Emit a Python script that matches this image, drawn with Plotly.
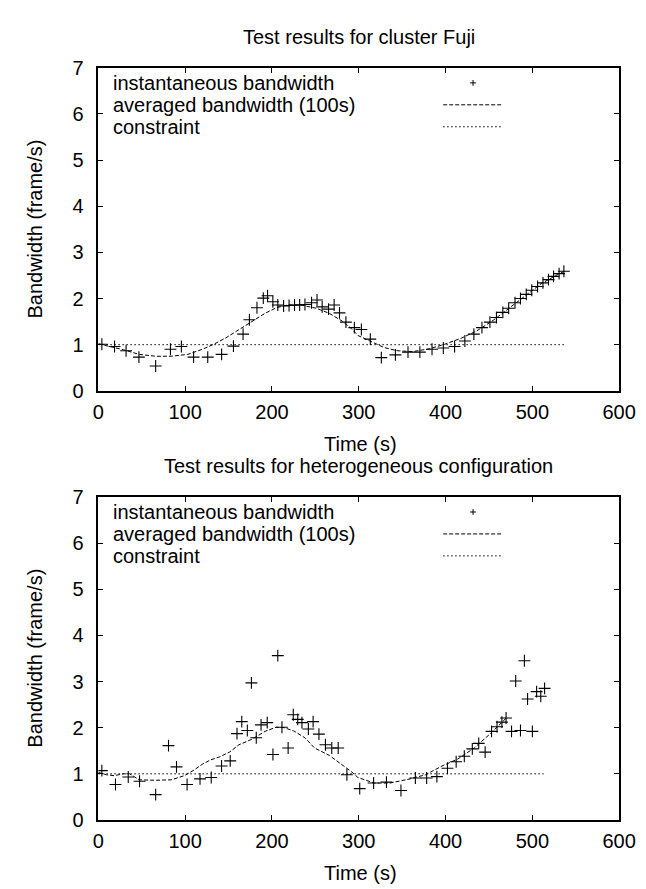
import plotly.graph_objects as go

# ---------------- data ----------------
top_inst_t = [4, 18.6, 31.9, 46.7, 66, 83, 95.6, 109.7, 126, 142, 155.6, 166.7, 174, 182.7, 190,
              194.9, 201, 206.7, 213.4, 219.7, 226, 231.9, 238, 245.6, 251.9, 257.8, 265.2, 271.6,
              277.8, 285.2, 294.9, 303, 313.3, 326, 342.2, 356.7, 370.4, 384.4, 397.4, 410.4, 422.2,
              432.6, 441.9, 451.1, 458.6, 466, 472.7, 480, 486.3, 493, 499.3, 506, 512.2, 518.6,
              524.4, 530.8, 536.3]
top_inst_v = [1.01, 0.96, 0.87, 0.73, 0.54, 0.90, 0.96, 0.73, 0.73, 0.79, 0.97, 1.23, 1.54, 1.80,
              2.01, 2.06, 1.93, 1.86, 1.84, 1.85, 1.86, 1.86, 1.87, 1.91, 1.97, 1.82, 1.77, 1.86,
              1.69, 1.49, 1.37, 1.33, 1.12, 0.72, 0.78, 0.84, 0.84, 0.90, 0.93, 0.96, 1.08, 1.23,
              1.37, 1.49, 1.59, 1.70, 1.79, 1.91, 2.00, 2.09, 2.18, 2.26, 2.34, 2.41, 2.48, 2.54, 2.59]

top_avg_t = [0, 29, 47, 66, 84, 103, 121, 133, 147, 162, 177, 192, 205, 218, 233, 251, 266, 281,
             292, 299, 314, 329, 344, 362, 381, 399, 418, 436, 455, 473, 492, 510, 529, 537]
top_avg_v = [1.02, 0.89, 0.79, 0.75, 0.75, 0.79, 0.91, 1.01, 1.15, 1.33, 1.51, 1.68, 1.80, 1.86,
             1.86, 1.79, 1.68, 1.51, 1.34, 1.20, 1.07, 0.94, 0.87, 0.85, 0.91, 1.01, 1.14, 1.30,
             1.53, 1.79, 2.07, 2.32, 2.52, 2.59]

top_con_t = [0, 537]
top_con_v = [1, 1]

bot_inst_t = [4, 19.7, 34.4, 47.4, 66, 80.8, 90, 102.2, 117.1, 130, 141.9, 151.9, 159.7, 165.2,
              171.6, 176.3, 181.9, 187.4, 194.5, 201.1, 206.7, 211.5, 218.6, 224.5, 229.7, 234.5,
              241.9, 247.4, 254.1, 261.6, 268.9, 276.3, 286.3, 301.1, 317.1, 331.9, 348.6, 365.2,
              378.2, 390, 402.2, 412.2, 421.6, 430.8, 438.2, 445.6, 453, 459.3, 464.9, 469.7, 476,
              480.8, 486.3, 490.8, 494.5, 500, 504.9, 509.7, 514.1]
bot_inst_v = [1.07, 0.77, 0.93, 0.84, 0.55, 1.61, 1.15, 0.77, 0.89, 0.92, 1.17, 1.28, 1.87, 2.13,
              1.94, 2.97, 1.78, 2.06, 2.11, 1.42, 3.56, 2.01, 1.56, 2.28, 2.18, 2.11, 1.97, 2.13,
              1.86, 1.63, 1.56, 1.56, 0.98, 0.68, 0.80, 0.82, 0.64, 0.91, 0.91, 0.94, 1.12, 1.26,
              1.38, 1.54, 1.66, 1.47, 1.92, 2.02, 2.12, 2.21, 1.92, 3.01, 1.94, 3.45, 2.62, 1.92,
              2.78, 2.68, 2.85]

bot_avg_t = [0, 9, 18, 29, 36, 47, 66, 84, 99, 110, 120, 129, 140, 151, 162, 177, 192, 205, 214,
             225, 238, 249, 266, 281, 292, 299, 318, 336, 359, 377, 396, 414, 433, 451, 470]
bot_avg_v = [1.03, 0.98, 0.96, 1.00, 1.00, 0.87, 0.86, 0.87, 0.96, 1.08, 1.21, 1.30, 1.37, 1.47,
             1.63, 1.75, 1.92, 2.01, 2.00, 1.93, 1.78, 1.56, 1.40, 1.20, 1.04, 0.92, 0.80, 0.80,
             0.89, 0.98, 1.17, 1.32, 1.56, 1.86, 2.21]

bot_con_t = [0, 513]
bot_con_v = [1, 1]

titles = ["Test results for cluster Fuji", "Test results for heterogeneous configuration"]
legend_labels = ["instantaneous bandwidth", "averaged bandwidth (100s)", "constraint"]
x_ticks = [0, 100, 200, 300, 400, 500, 600]
y_ticks = [0, 1, 2, 3, 4, 5, 6, 7]

# ---------------- layout helpers ----------------
W, H = 646, 889
FONT = "Liberation Sans, Arial, Helvetica, sans-serif"
FS = 20
TFS = 20


def fx(px):
    return px / W


def fy(py):
    return 1 - py / H


X0, X1 = 87.5, 627.5
panels = [(50.0, 381.3), (490.0, 821.3)]  # (top px, bottom px)

fig = go.Figure()

data = [
    (top_inst_t, top_inst_v, top_avg_t, top_avg_v, top_con_t, top_con_v),
    (bot_inst_t, bot_inst_v, bot_avg_t, bot_avg_v, bot_con_t, bot_con_v),
]

for i, (it, iv, at, av, ct, cv) in enumerate(data):
    xa = "x" if i == 0 else "x2"
    ya = "y" if i == 0 else "y2"
    fig.add_trace(go.Scatter(x=ct, y=cv, mode="lines", xaxis=xa, yaxis=ya,
                             line=dict(color="black", width=1, dash="1.5px,2.5px"),
                             showlegend=False, hoverinfo="skip"))
    fig.add_trace(go.Scatter(x=at, y=av, mode="lines", xaxis=xa, yaxis=ya,
                             line=dict(color="black", width=1, dash="4px,2px"),
                             showlegend=False, hoverinfo="skip"))
    fig.add_trace(go.Scatter(x=it, y=iv, mode="markers", xaxis=xa, yaxis=ya,
                             marker=dict(symbol="cross-thin", size=8.5,
                                         line=dict(color="black", width=1.1)),
                             showlegend=False))

axis_common = dict(showline=True, linecolor="black", linewidth=1.5, mirror="ticks",
                   ticks="inside", ticklen=5, tickwidth=1.2, tickcolor="black",
                   showgrid=False, zeroline=False,
                   tickfont=dict(family=FONT, size=TFS, color="black"))

layout = dict(width=W, height=H, margin=dict(l=0, r=0, t=0, b=0),
              paper_bgcolor="white", plot_bgcolor="white", showlegend=False,
              font=dict(family=FONT, size=FS, color="black"))

annotations = []
shapes = []
for i, (ptop, pbot) in enumerate(panels):
    sfx = "" if i == 0 else "2"
    layout["xaxis" + sfx] = dict(axis_common, domain=[fx(X0), fx(X1)], range=[0, 600],
                                 tickvals=x_ticks, anchor="y" + sfx, ticklabelstandoff=2)
    layout["yaxis" + sfx] = dict(axis_common, domain=[fy(pbot), fy(ptop)], range=[0, 7],
                                 tickvals=y_ticks, anchor="x" + sfx, ticklabelstandoff=9)
    # title
    annotations.append(dict(text=titles[i], xref="paper", yref="paper",
                            x=fx((X0 + X1) / 2), y=fy(ptop - 31.5), showarrow=False,
                            xanchor="center", yanchor="middle",
                            font=dict(family=FONT, size=FS, color="black")))
    # x axis title
    annotations.append(dict(text="Time (s)", xref="paper", yref="paper",
                            x=fx(359), y=fy(pbot + 54), showarrow=False,
                            xanchor="center", yanchor="middle",
                            font=dict(family=FONT, size=FS, color="black")))
    # y axis title
    annotations.append(dict(text="Bandwidth (frame/s)", xref="paper", yref="paper",
                            x=fx(22), y=fy((ptop + pbot) / 2), showarrow=False, textangle=-90,
                            xanchor="center", yanchor="middle",
                            font=dict(family=FONT, size=FS, color="black")))
    # legend (gnuplot style: text left, sample right)
    rows = [ptop + 15.5, ptop + 38, ptop + 60.5]
    for r, lab in zip(rows, legend_labels):
        annotations.append(dict(text=lab, xref="paper", yref="paper", x=fx(101), y=fy(r),
                                showarrow=False, xanchor="left", yanchor="middle",
                                font=dict(family=FONT, size=FS, color="black")))
    cx, cy = 476, rows[0]
    shapes.append(dict(type="path", xref="paper", yref="paper",
                       path=f"M {fx(cx-3)},{fy(cy)} L {fx(cx+3)},{fy(cy)} "
                            f"M {fx(cx)},{fy(cy-3)} L {fx(cx)},{fy(cy+3)}",
                       line=dict(color="black", width=1)))
    shapes.append(dict(type="line", xref="paper", yref="paper", x0=fx(445), x1=fx(507),
                       y0=fy(rows[1]), y1=fy(rows[1]),
                       line=dict(color="black", width=1, dash="4px,2px")))
    shapes.append(dict(type="line", xref="paper", yref="paper", x0=fx(445), x1=fx(507),
                       y0=fy(rows[2]), y1=fy(rows[2]),
                       line=dict(color="black", width=1, dash="1.5px,2.5px")))

layout["annotations"] = annotations
layout["shapes"] = shapes
fig.update_layout(**layout)

fig.write_html("out.html")
